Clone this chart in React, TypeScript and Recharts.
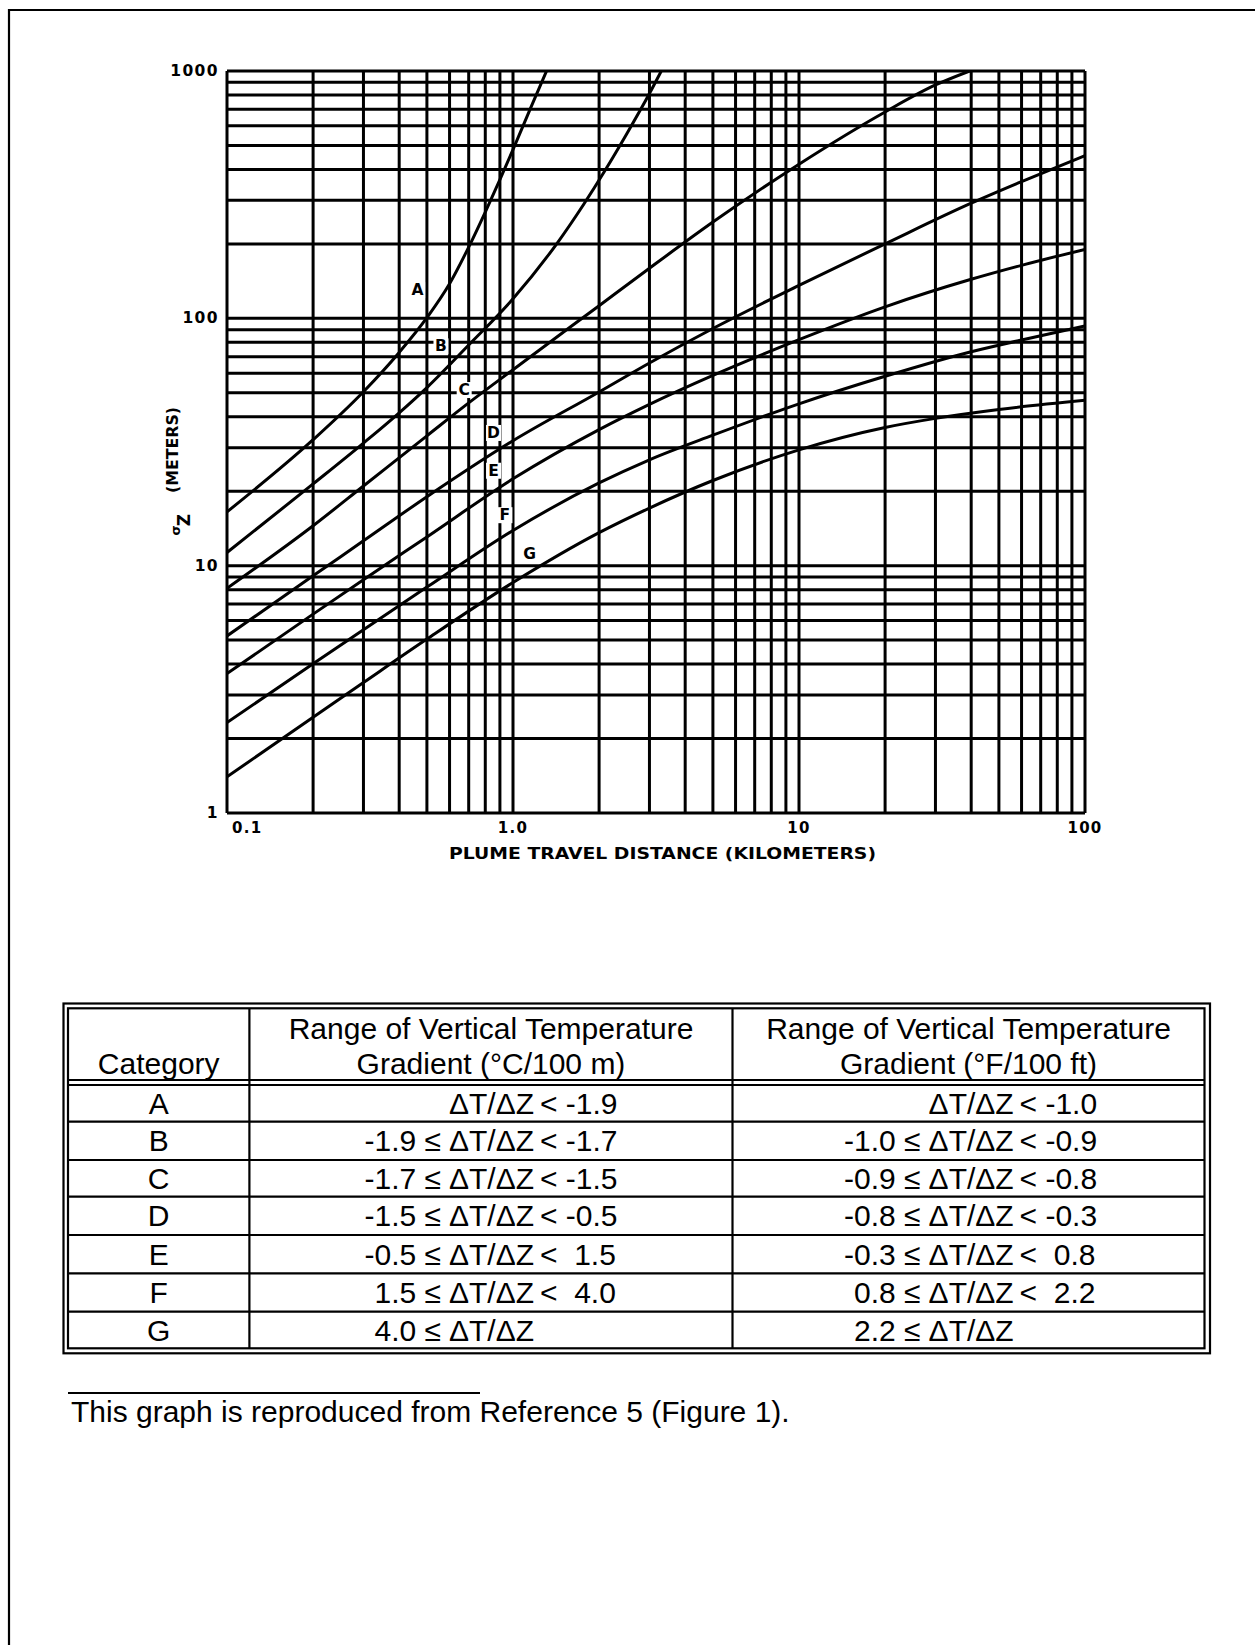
import React from 'react';
import { LineChart, Line, XAxis, YAxis, CartesianGrid, ReferenceDot } from 'recharts';

// Vertical dispersion coefficient σz (m) versus plume travel distance (km), per stability category
const distA = [0.1, 0.2, 0.3, 0.4, 0.5, 0.6, 0.7, 0.8, 0.9, 1.0, 1.15, 1.31];
const sigmaA = [16.5, 32.3, 50.5, 72.8, 100.6, 138, 194, 269, 364, 481, 704, 1000];
const distB = [0.1, 0.2, 0.3, 0.4, 0.5, 0.7, 1.0, 1.43, 1.77, 2.1, 2.5, 3.0, 3.3];
const sigmaB = [11.3, 21.4, 31.3, 41.5, 52.5, 78, 120, 202, 290, 397, 558, 811, 1000];
const distC = [0.1, 0.2, 0.3, 0.5, 0.7, 1, 2, 3, 5, 10, 20, 30, 39.5];
const sigmaC = [8.1, 14.5, 21, 33.5, 45.5, 62, 112.5, 159.4, 245, 420, 683, 878, 1000];
const distD = [0.1, 0.2, 0.3, 0.5, 1, 2, 3, 5, 10, 20, 40, 60, 100];
const sigmaD = [5.2, 9.1, 12.6, 19.0, 32, 50.4, 66, 91, 136, 200, 292, 357, 455];
const distE = [0.1, 0.2, 0.3, 0.5, 1, 2, 3, 5, 10, 20, 40, 60, 100];
const sigmaE = [3.66, 6.37, 8.78, 13.07, 22.45, 35.5, 44.9, 58.8, 82, 111.3, 143.8, 163.8, 190];
const distF = [0.1, 0.2, 0.3, 0.5, 1, 2, 3, 5, 10, 20, 40, 60, 100];
const sigmaF = [2.32, 4.01, 5.51, 8.19, 13.88, 21.6, 26.8, 33.7, 45.1, 58.3, 73.3, 81.7, 93.1];
const distG = [0.1, 0.2, 0.3, 0.5, 1, 2, 3, 5, 10, 20, 30, 50, 100];
const sigmaG = [1.4, 2.44, 3.37, 5.05, 8.55, 13.6, 17.1, 22.1, 29.4, 36.2, 39.4, 42.8, 46.6];

// Curve letter annotations (distance km, σz m)
const curveNames = ['A', 'B', 'C', 'D', 'E', 'F', 'G'];
const labelDist = [0.464, 0.56, 0.675, 0.855, 0.855, 0.937, 1.144];
const labelSigma = [130, 77, 51.3, 34.4, 24.2, 16.0, 11.1];

// Log grid lines and decade tick labels
const xGrid = [0.1, 0.2, 0.3, 0.4, 0.5, 0.6, 0.7, 0.8, 0.9, 1, 2, 3, 4, 5, 6, 7, 8, 9, 10, 20, 30, 40, 50, 60, 70, 80, 90, 100];
const yGrid = [1, 2, 3, 4, 5, 6, 7, 8, 9, 10, 20, 30, 40, 50, 60, 70, 80, 90, 100, 200, 300, 400, 500, 600, 700, 800, 900, 1000];
const xLabelValues = [0.1, 1, 10, 100];
const xLabelText = ['0.1', '1.0', '10', '100'];
const yLabelValues = [1, 10, 100, 1000];
const yLabelText = ['1', '10', '100', '1000'];

// Stability classification table
const categories = ['A', 'B', 'C', 'D', 'E', 'F', 'G'];
const celsiusLow = ['', '-1.9 ≤', '-1.7 ≤', '-1.5 ≤', '-0.5 ≤', '1.5 ≤', '4.0 ≤'];
const celsiusHigh = ['< -1.9', '< -1.7', '< -1.5', '< -0.5', '<  1.5', '<  4.0', ''];
const fahrenheitLow = ['', '-1.0 ≤', '-0.9 ≤', '-0.8 ≤', '-0.3 ≤', '0.8 ≤', '2.2 ≤'];
const fahrenheitHigh = ['< -1.0', '< -0.9', '< -0.8', '< -0.3', '<  0.8', '<  2.2', ''];

const zip = (xs: number[], ys: number[]) => xs.map((x, i) => ({ x, y: ys[i] }));
const series = [
  zip(distA, sigmaA),
  zip(distB, sigmaB),
  zip(distC, sigmaC),
  zip(distD, sigmaD),
  zip(distE, sigmaE),
  zip(distF, sigmaF),
  zip(distG, sigmaG),
];

const AXIS_FONT = '"DejaVu Sans", Verdana, sans-serif';
const TABLE_FONT = '"Liberation Sans", Arial, Helvetica, sans-serif';
const INK = '#000';
const LINE_W = 3;

const XTick = (props: any) => {
  const { x, y, payload } = props;
  const i = xLabelValues.indexOf(payload.value);
  if (i < 0) return <g />;
  const first = i === 0;
  return (
    <text
      x={first ? x + 5 : x}
      y={y + 15}
      textAnchor={first ? 'start' : 'middle'}
      dominantBaseline="central"
      fontFamily={AXIS_FONT}
      fontWeight="bold"
      fontSize={15}
      letterSpacing={1.3}
      fill={INK}
    >
      {xLabelText[i]}
    </text>
  );
};

const YTick = (props: any) => {
  const { x, y, payload } = props;
  const i = yLabelValues.indexOf(payload.value);
  if (i < 0) return <g />;
  return (
    <text
      x={x - 8}
      y={y}
      textAnchor="end"
      dominantBaseline="central"
      fontFamily={AXIS_FONT}
      fontWeight="bold"
      fontSize={15.5}
      letterSpacing={1.4}
      fill={INK}
    >
      {yLabelText[i]}
    </text>
  );
};

const XTitle = (props: any) => {
  const vb = props.viewBox;
  return (
    <text
      x={vb.x + vb.width / 2 + 6.5}
      y={vb.y + 46}
      textAnchor="middle"
      fontFamily={AXIS_FONT}
      fontWeight="bold"
      fontSize={15}
      textLength={427}
      lengthAdjust="spacingAndGlyphs"
      fill={INK}
    >
      PLUME TRAVEL DISTANCE (KILOMETERS)
    </text>
  );
};

const YTitle = (props: any) => {
  const vb = props.viewBox;
  const bx = vb.x + 11; // baseline of the rotated words
  const mid = vb.y + 379;
  return (
    <g fontFamily={AXIS_FONT} fontWeight="bold" fill={INK}>
      <text
        x={bx}
        y={mid}
        transform={`rotate(-90 ${bx} ${mid})`}
        textAnchor="middle"
        fontSize={15}
        textLength={86}
        lengthAdjust="spacingAndGlyphs"
      >
        (METERS)
      </text>
      <text
        x={bx + 2}
        y={mid + 80.5}
        transform={`rotate(-90 ${bx + 2} ${mid + 80.5})`}
        textAnchor="middle"
        fontSize={13}
      >
        σ
      </text>
      <text
        x={bx + 12}
        y={mid + 70}
        transform={`rotate(-90 ${bx + 12} ${mid + 70})`}
        textAnchor="middle"
        fontSize={17}
      >
        Z
      </text>
    </g>
  );
};

const curveTag = (letter: string) => (p: any) => (
  <g>
    <rect x={p.cx - 7.5} y={p.cy - 8} width={15} height={16} fill="#fff" />
    <text
      x={p.cx}
      y={p.cy}
      textAnchor="middle"
      dominantBaseline="central"
      fontFamily={AXIS_FONT}
      fontWeight="bold"
      fontSize={15.5}
      fill={INK}
    >
      {letter}
    </text>
  </g>
);

const rowEdges = [1085, 1121.7, 1160, 1196.7, 1235, 1273.3, 1311.7, 1348.3];

const StabilityTable = () => {
  const fs = 30;
  const col1 = 158.7;
  const sepA = 249.4;
  const sepB = 732.5;
  const deltaC = 449;
  const deltaF = 928.6;
  const ratio = 'ΔT/ΔZ';
  const rule = { stroke: INK, strokeWidth: 2.2 };
  return (
    <g fontFamily={TABLE_FONT} fontSize={fs} fill={INK}>
      <rect x={63.5} y={1003.5} width={1146.5} height={349.8} fill="none" {...rule} />
      <rect x={68} y={1008.3} width={1136.5} height={340} fill="none" {...rule} />
      <line x1={sepA} y1={1008.3} x2={sepA} y2={1348.3} {...rule} />
      <line x1={sepB} y1={1008.3} x2={sepB} y2={1348.3} {...rule} />
      <line x1={68} y1={1080} x2={1204.5} y2={1080} {...rule} />
      <line x1={68} y1={1085} x2={1204.5} y2={1085} {...rule} />
      {rowEdges.slice(1, -1).map((y, i) => (
        <line key={i} x1={68} y1={y} x2={1204.5} y2={y} {...rule} />
      ))}
      <text x={col1} y={1073.5} textAnchor="middle">Category</text>
      <text x={491} y={1038.5} textAnchor="middle">Range of Vertical Temperature</text>
      <text x={491} y={1073.5} textAnchor="middle">Gradient (°C/100 m)</text>
      <text x={968.5} y={1038.5} textAnchor="middle">Range of Vertical Temperature</text>
      <text x={968.5} y={1073.5} textAnchor="middle">Gradient (°F/100 ft)</text>
      {categories.map((c, i) => {
        const base = (rowEdges[i] + rowEdges[i + 1]) / 2 + 10.5;
        return (
          <g key={c}>
            <text x={col1} y={base} textAnchor="middle">{c}</text>
            <text x={deltaC - 8} y={base} textAnchor="end">{celsiusLow[i]}</text>
            <text x={deltaC} y={base}>{ratio}</text>
            <text x={deltaC + 91} y={base} style={{ whiteSpace: 'pre' }}>{celsiusHigh[i]}</text>
            <text x={deltaF - 8} y={base} textAnchor="end">{fahrenheitLow[i]}</text>
            <text x={deltaF} y={base}>{ratio}</text>
            <text x={deltaF + 91} y={base} style={{ whiteSpace: 'pre' }}>{fahrenheitHigh[i]}</text>
          </g>
        );
      })}
    </g>
  );
};

export default function App() {
  return (
    <div style={{ position: 'absolute', left: 0, top: 0, width: 1255, height: 1645, background: '#fff' }}>
      <svg width={1255} height={1645} style={{ position: 'absolute', left: 0, top: 0 }}>
        <line x1={9} y1={10} x2={1255} y2={10} stroke={INK} strokeWidth={2.2} />
        <line x1={9} y1={9} x2={9} y2={1645} stroke={INK} strokeWidth={2.2} />
        <StabilityTable />
        <line x1={68} y1={1393} x2={480} y2={1393} stroke={INK} strokeWidth={2} />
        <text x={71} y={1422} fontFamily={TABLE_FONT} fontSize={30} fill={INK}>
          This graph is reproduced from Reference 5 (Figure 1).
        </text>
      </svg>
      <div style={{ position: 'absolute', left: 0, top: 0 }}>
        <LineChart width={1255} height={900} margin={{ top: 71, right: 170, bottom: 47, left: 167 }}>
          <CartesianGrid stroke={INK} strokeWidth={LINE_W} />
          <XAxis
            type="number"
            dataKey="x"
            scale="log"
            domain={[0.1, 100]}
            ticks={xGrid}
            interval={0}
            allowDataOverflow
            axisLine={false}
            tickLine={false}
            tickSize={0}
            tickMargin={0}
            height={40}
            tick={<XTick />}
            label={{ content: <XTitle /> }}
          />
          <YAxis
            type="number"
            dataKey="y"
            scale="log"
            domain={[1, 1000]}
            ticks={yGrid}
            interval={0}
            allowDataOverflow
            axisLine={false}
            tickLine={false}
            tickSize={0}
            tickMargin={0}
            width={60}
            tick={<YTick />}
            label={{ content: <YTitle /> }}
          />
          {series.map((pts, i) => (
            <Line
              key={curveNames[i]}
              data={pts}
              dataKey="y"
              type="monotone"
              stroke={INK}
              strokeWidth={LINE_W}
              dot={false}
              activeDot={false}
              isAnimationActive={false}
            />
          ))}
          {curveNames.map((n, i) => (
            <ReferenceDot
              key={'tag' + n}
              x={labelDist[i]}
              y={labelSigma[i]}
              r={0}
              shape={curveTag(n)}
            />
          ))}
        </LineChart>
      </div>
    </div>
  );
}
